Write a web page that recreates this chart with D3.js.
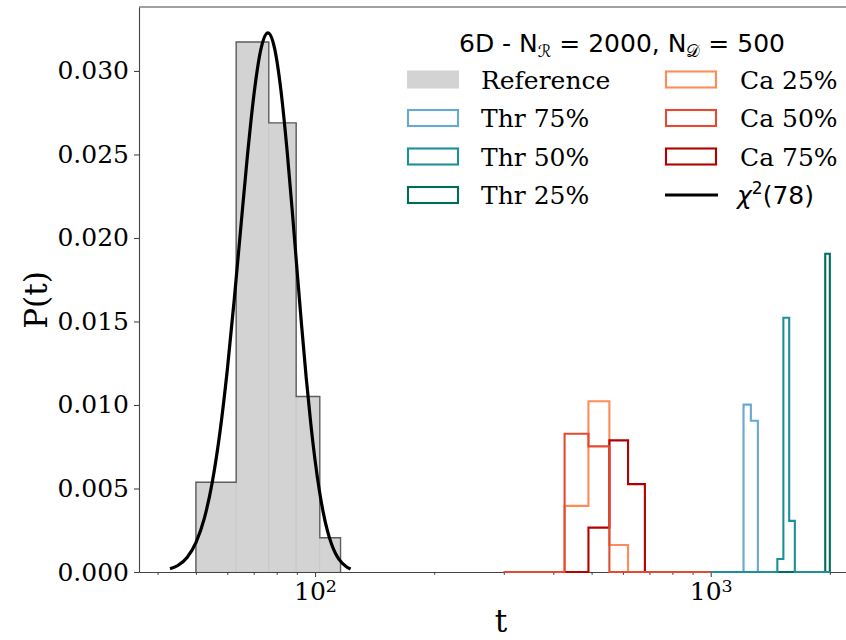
<!DOCTYPE html>
<html>
<head>
<meta charset="utf-8" />
<title>D3 v7 - t distributions</title>
<style>
body { margin: 0; background: #fff; }
#graph { width: 846px; height: 640px; }
.axis text { font-family: "DejaVu Serif", serif; font-size: 25px; fill: #000; }
.axis path, .axis line { stroke: #444; stroke-width: 1.1px; }
.legend text { font-family: "DejaVu Serif", serif; font-size: 25px; fill: #000; }
</style>
</head>
<body>
<div id="graph"></div>
<script src="https://d3js.org/d3.v7.min.js"></script>
<script>
// reference histogram (density)
var refEdges = [50, 63.2, 76.4, 89.6, 102.8, 116];
var refDensity = [0.00537, 0.03173, 0.02689, 0.01051, 0.00205];

// "Ca" histograms, shared bins 300..1000
var caEdges = [300, 363.6, 427.3, 490.9, 554.5, 618.2, 681.8, 745.5, 809.1, 872.7, 936.4, 1000];
var ca25 = [0, 0, 0.00396, 0.01022, 0.00162, 0, 0, 0, 0, 0, 0];
var ca50 = [0, 0, 0.00828, 0.00752, 0, 0, 0, 0, 0, 0, 0];
var ca75 = [0, 0, 0, 0.00266, 0.00788, 0.00526, 0, 0, 0, 0, 0];

// "Thr" histograms, shared bins 1000..2000
var thrEdges = [1000, 1052.6, 1105.3, 1157.9, 1210.5, 1263.2, 1315.8, 1368.4, 1421.1, 1473.7,
                1526.3, 1578.9, 1631.6, 1684.2, 1736.8, 1789.5, 1842.1, 1894.7, 1947.4, 2000];
var thr75 = [0, 0, 0, 0, 0.01002, 0.00906, 0, 0, 0, 0, 0, 0, 0, 0, 0, 0, 0, 0, 0];
var thr50 = [0, 0, 0, 0, 0, 0, 0, 0, 0, 0.00078, 0.01522, 0.00306, 0, 0, 0, 0, 0, 0, 0];
var thr25 = [0, 0, 0, 0, 0, 0, 0, 0, 0, 0, 0, 0, 0, 0, 0, 0, 0, 0, 0.01906];

// chi2(78) curve, sampled points
var chiT = [43, 45, 47.5, 50, 52.5, 55, 57.5, 60, 62.5, 65, 67.5, 70, 73, 76, 79, 82, 85, 87.5,
            90, 92.5, 95, 97.5, 100, 102.5, 105, 107.5, 110, 112.5, 115, 120, 123];
var chiP = [0.000189, 0.00039, 0.000873, 0.001757, 0.00321, 0.00539, 0.00837, 0.01208, 0.01633,
            0.02077, 0.02497, 0.02849, 0.03132, 0.03228, 0.03137, 0.02884, 0.02521, 0.02174,
            0.01816, 0.01474, 0.01163, 0.00894, 0.0067, 0.00491, 0.00351, 0.00246, 0.00169,
            0.001137, 0.000751, 0.000311, 0.000177];

var yTicks = [0, 0.005, 0.010, 0.015, 0.020, 0.025, 0.030];
var xMajor = [100, 1000];
var xMinor = [40, 50, 60, 70, 80, 90, 200, 300, 400, 500, 600, 700, 800, 900, 2000];

var legendLeft = ["Reference", "Thr 75%", "Thr 50%", "Thr 25%"];
var legendRight = ["Ca 25%", "Ca 50%", "Ca 75%"];

!(function(){
    "use strict"

    var width = 846, height = 640;
    var margin = {top: 7, left: 139, bottom: 68, right: -17};
    var svg = d3.select("#graph").append("svg")
        .attr("width", width).attr("height", height);

    var xScale = d3.scaleLog().domain([35.9, 2426]).range([margin.left, width - margin.right]);
    var yScale = d3.scaleLinear().domain([0, 0.03383]).range([height - margin.bottom, margin.top]);

    var colors = {
        "Thr 75%": "#67a9cf", "Thr 50%": "#1c9099", "Thr 25%": "#016c59",
        "Ca 25%": "#fc8d59", "Ca 50%": "#e34a33", "Ca 75%": "#b30000"
    };

    var series = [
        {name: "Thr 75%", edges: thrEdges, values: thr75},
        {name: "Thr 25%", edges: thrEdges, values: thr25},
        {name: "Thr 50%", edges: thrEdges, values: thr50},
        {name: "Ca 25%", edges: caEdges, values: ca25},
        {name: "Ca 75%", edges: caEdges, values: ca75},
        {name: "Ca 50%", edges: caEdges, values: ca50}
    ];

    var lineGen = d3.line()
        .x(function(d){ return xScale(d[0]) })
        .y(function(d){ return yScale(d[1]) });

    function stepPoints(edges, values) {
        var pts = [[edges[0], 0]];
        values.forEach(function(v, i){
            pts.push([edges[i], v]);
            pts.push([edges[i + 1], v]);
        });
        pts.push([edges[edges.length - 1], 0]);
        return pts;
    }

    drawReference();
    drawAxis();
    drawSteps();
    drawChi();
    drawLegend();

    function drawReference() {
        var bins = refDensity.map(function(v, i){ return {x0: refEdges[i], x1: refEdges[i + 1], v: v} });
        svg.append("g").selectAll("rect").data(bins).enter().append("rect")
            .attr("x", function(d){ return xScale(d.x0) })
            .attr("width", function(d){ return xScale(d.x1) - xScale(d.x0) })
            .attr("y", function(d){ return yScale(d.v) })
            .attr("height", function(d){ return yScale(0) - yScale(d.v) })
            .attr("fill", "#d3d3d3")
            .attr("stroke", "#c5c5c5")
            .attr("stroke-width", 0.8);
        svg.append("path")
            .attr("d", lineGen(stepPoints(refEdges, refDensity)))
            .attr("fill", "none")
            .attr("stroke", "#5e5e5e")
            .attr("stroke-width", 1.4);
    }

    function drawSteps() {
        svg.append("g").selectAll("path").data(series).enter().append("path")
            .attr("d", function(d){ return lineGen(stepPoints(d.edges, d.values)) })
            .attr("fill", "none")
            .attr("stroke", function(d){ return colors[d.name] })
            .attr("stroke-width", 2.1);
    }

    function drawChi() {
        var pts = chiT.map(function(t, i){ return [t, chiP[i]] });
        svg.append("path")
            .attr("d", lineGen.curve(d3.curveMonotoneX)(pts))
            .attr("fill", "none")
            .attr("stroke", "#000")
            .attr("stroke-width", 3.2);
        lineGen.curve(d3.curveLinear);
    }

    function drawAxis() {
        var yAxis = d3.axisLeft(yScale)
            .tickValues(yTicks)
            .tickFormat(d3.format(".3f"))
            .tickSizeInner(5).tickSizeOuter(0).tickPadding(5);
        svg.append("g").attr("class", "axis y")
            .attr("transform", "translate(" + margin.left + ",0)")
            .call(yAxis);

        var y0 = yScale(0);
        var xAxis = d3.axisBottom(xScale)
            .tickValues(xMajor)
            .tickFormat(function(){ return "" })
            .tickSizeInner(5).tickSizeOuter(0).tickPadding(5);
        var gx = svg.append("g").attr("class", "axis x")
            .attr("transform", "translate(0," + y0 + ")")
            .call(xAxis);
        gx.selectAll(".tick text").each(function(d){
            var t = d3.select(this);
            t.append("tspan").text("10");
            t.append("tspan").text(Math.round(Math.log10(d)))
                .attr("font-size", "17.5px").attr("dy", "-0.45em");
        });
        var xMinorAxis = d3.axisBottom(xScale)
            .tickValues(xMinor)
            .tickFormat("")
            .tickSizeInner(2.8).tickSizeOuter(0);
        var gm = svg.append("g").attr("class", "axis x minor")
            .attr("transform", "translate(0," + y0 + ")")
            .call(xMinorAxis);
        gm.select(".domain").remove();

        svg.append("line").attr("class", "spine")
            .attr("x1", margin.left).attr("x2", width - margin.right)
            .attr("y1", margin.top).attr("y2", margin.top)
            .attr("stroke", "#444").attr("stroke-width", 1.1);

        svg.append("text")
            .attr("x", 501).attr("y", 632)
            .attr("text-anchor", "middle")
            .style("font-family", "DejaVu Serif, serif").style("font-size", "31px")
            .text("t");
        svg.append("text")
            .attr("transform", "translate(47,300) rotate(-90)")
            .attr("text-anchor", "middle")
            .style("font-family", "DejaVu Serif, serif").style("font-size", "31px")
            .text("P(t)");
    }

    function drawLegend() {
        var lg = svg.append("g").attr("class", "legend");
        var rowY = [79.5, 118, 156.5, 195];
        var col1 = 407, col2 = 665, hw = 52, hh = 18;

        var title = lg.append("text")
            .attr("x", 622).attr("y", 52)
            .attr("text-anchor", "middle")
            .style("font-family", "DejaVu Sans, sans-serif");
        title.append("tspan").text("6D - N");
        title.append("tspan").text("\u211B").attr("font-size", "17px").attr("dy", "5");
        title.append("tspan").text(" = 2000, N").attr("dy", "-5");
        title.append("tspan").text("\uD835\uDC9F").attr("font-size", "17px").attr("dy", "5");
        title.append("tspan").text(" = 500").attr("dy", "-5");

        legendLeft.forEach(function(name, i){
            var r = lg.append("rect")
                .attr("x", col1).attr("y", rowY[i] - hh / 2)
                .attr("width", hw).attr("height", hh);
            if (i === 0) {
                r.attr("fill", "#d3d3d3");
            } else {
                r.attr("x", col1 + 1).attr("y", rowY[i] - hh / 2 + 1)
                    .attr("width", hw - 2).attr("height", hh - 2)
                    .attr("fill", "none").attr("stroke", colors[name]).attr("stroke-width", 2.1);
            }
            lg.append("text").attr("x", 481).attr("y", rowY[i]).attr("dy", "0.36em").text(name);
        });

        legendRight.forEach(function(name, i){
            lg.append("rect")
                .attr("x", col2 + 1).attr("y", rowY[i] - hh / 2 + 1)
                .attr("width", hw - 2).attr("height", hh - 2)
                .attr("fill", "none").attr("stroke", colors[name]).attr("stroke-width", 2.1);
            lg.append("text").attr("x", 740).attr("y", rowY[i]).attr("dy", "0.36em").text(name);
        });

        lg.append("line")
            .attr("x1", col2).attr("x2", col2 + 53)
            .attr("y1", rowY[3]).attr("y2", rowY[3])
            .attr("stroke", "#000").attr("stroke-width", 3.2);
        var chi = lg.append("text").attr("x", 737).attr("y", rowY[3]).attr("dy", "0.36em")
            .style("font-family", "DejaVu Sans, sans-serif");
        chi.append("tspan").text("\u03C7").style("font-style", "italic");
        chi.append("tspan").text("2").attr("font-size", "17px").attr("dy", "-10");
        chi.append("tspan").text("(78)").attr("dy", "10");
    }
}());
</script>
</body>
</html>
